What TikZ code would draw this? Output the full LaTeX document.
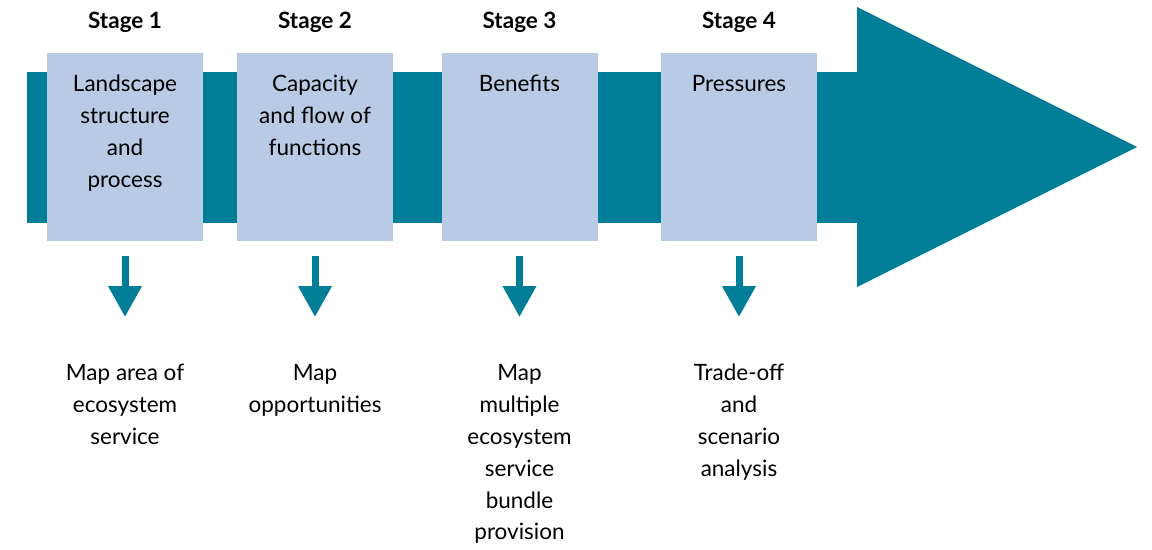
\documentclass[tikz,border=0pt]{standalone}
\usepackage{fontspec}
\setmainfont{Lato}
\usetikzlibrary{arrows.meta}

\definecolor{bandteal}{RGB}{0,126,151}
\definecolor{boxblue}{RGB}{185,203,228}

\tikzset{
	stagebox/.style={fill=boxblue, minimum width=3.9cm, minimum height=4.7cm, inner sep=0pt},
	boxtext/.style={anchor=north, align=center, inner sep=0pt, font=\fontsize{16}{22.7}\selectfont},
	stagelabel/.style={anchor=base, inner sep=0pt, font=\fontsize{16}{20}\selectfont\bfseries},
	downarrow/.style={draw=bandteal, line width=0.175cm, -{Triangle[width=0.8cm, length=0.775cm]},
			shorten <=0.375cm, shorten >=1.175cm}
}

\begin{document}
\begin{tikzpicture}
		\useasboundingbox (0, 0) rectangle (28.8, 13.725);

		% band and big arrow head
		\fill[bandteal] (0.675, 8.15) rectangle (21.425, 11.925);
		\fill[bandteal] (21.425, 13.55) -- (28.425, 10.05) -- (21.425, 6.55) -- cycle;

		\foreach \i/\x in {1/3.125, 2/7.875, 3/12.9875, 4/18.475}{
				\node[stagebox] (s\i) at (\x, 10.05) {};
				\node[stagelabel] (l\i) at (\x, 13.0) {Stage \i};
			}

		\node[boxtext] (t1) at (3.125, 11.85) {Landscape\\structure\\and\\process};
		\node[boxtext] (t2) at (7.875, 11.85) {Capacity\\and flow of\\functions};
		\node[boxtext] (t3) at (12.9875, 11.85) {Benefits};
		\node[boxtext] (t4) at (18.475, 11.85) {Pressures};

		\node[boxtext] (m1) at (3.125, 4.625) {Map area of\\ecosystem\\service};
		\node[boxtext] (m2) at (7.875, 4.625) {Map\\opportunities};
		\node[boxtext] (m3) at (12.9875, 4.625) {Map\\multiple\\ecosystem\\service\\bundle\\provision};
		\node[boxtext] (m4) at (18.475, 4.625) {Trade-off\\and\\scenario\\analysis};

		\foreach \i in {1, 2, 3, 4}{
				\draw[downarrow] (s\i.south) -- (m\i.north);
			}
	\end{tikzpicture}
\end{document}
